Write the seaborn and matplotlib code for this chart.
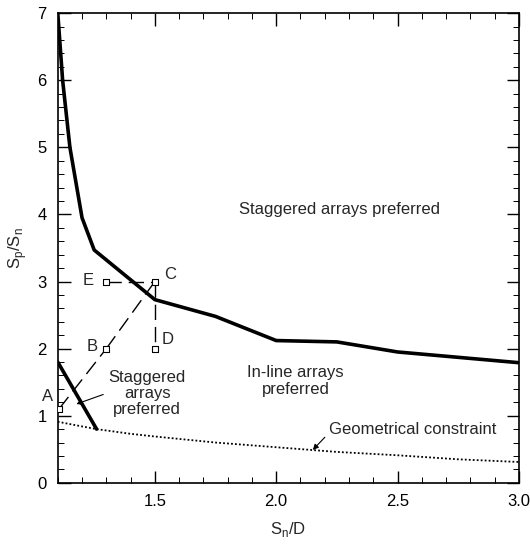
import matplotlib
matplotlib.use("Agg")
import matplotlib.pyplot as plt
import seaborn as sns
import pandas as pd
from matplotlib.ticker import MultipleLocator

sns.set_theme(style="white")
plt.rcParams['font.family'] = ['Liberation Sans', 'DejaVu Sans']
plt.rcParams['mathtext.fontset'] = 'custom'
plt.rcParams['mathtext.rm'] = 'Liberation Sans'

# Boundary between staggered (above) and in-line (below)
upper_x = [1.10, 1.12, 1.15, 1.20, 1.25, 1.50, 1.75, 2.00, 2.25, 2.50, 3.00]
upper_y = [7.00, 6.00, 5.00, 3.95, 3.47, 2.73, 2.48, 2.12, 2.10, 1.95, 1.79]

# Lower-left boundary
lower_x = [1.10, 1.26]
lower_y = [1.80, 0.80]

# Geometrical constraint
geo_x = [1.10, 1.20, 1.26, 1.40, 1.50, 1.75, 2.00, 2.25, 2.50, 2.75, 3.00]
geo_y = [0.91, 0.84, 0.80, 0.73, 0.69, 0.60, 0.53, 0.46, 0.41, 0.35, 0.31]

# Design path points
pt_labels = ["A", "B", "C", "D", "E"]
pt_x = [1.105, 1.30, 1.50, 1.50, 1.30]
pt_y = [1.10, 2.00, 3.00, 2.00, 3.00]

fig = plt.figure(figsize=(5.30, 5.48), dpi=100)
ax = fig.add_axes([0.109, 0.119, 0.870, 0.857])

sns.lineplot(x=upper_x, y=upper_y, ax=ax, color="black", lw=2.6, sort=False, estimator=None)
sns.lineplot(x=lower_x, y=lower_y, ax=ax, color="black", lw=2.6, sort=False, estimator=None)
sns.lineplot(x=geo_x, y=geo_y, ax=ax, color="black", lw=1.3, ls=(0, (1, 1.2)), sort=False, estimator=None)

dash = (0, (11, 5))
path_segments = [(0, 1), (1, 2), (4, 2), (2, 3)]
for i, j in path_segments:
    sns.lineplot(x=[pt_x[i], pt_x[j]], y=[pt_y[i], pt_y[j]], ax=ax, color="black",
                 lw=1.0, ls=dash, sort=False, estimator=None)
sns.scatterplot(x=pt_x, y=pt_y, ax=ax, marker="s", s=18, facecolor="white",
                edgecolor="black", linewidth=0.8, zorder=5)

lab_off = {"A": (-0.046, 0.18), "B": (-0.06, 0.03), "C": (0.062, 0.10),
           "D": (0.053, 0.13), "E": (-0.076, 0.01)}
FS = 12
for lab, x, y in zip(pt_labels, pt_x, pt_y):
    dx, dy = lab_off[lab]
    ax.text(x + dx, y + dy, lab, ha="center", va="center", fontsize=FS)

ax.text(2.262, 4.07, "Staggered arrays preferred", ha="center", va="center", fontsize=FS)
ax.text(2.08, 1.52, "In-line arrays\npreferred", ha="center", va="center", fontsize=FS,
        linespacing=1.15)
ax.text(1.469, 1.33, "Staggered\narrays\npreferred", ha="center", va="center", fontsize=FS,
        linespacing=1.05)
ax.annotate("", xy=(1.166, 1.16), xytext=(1.298, 1.33),
            arrowprops=dict(arrowstyle="-|>", color="black", lw=0.8, mutation_scale=8))
ax.annotate("Geometrical constraint", xy=(2.143, 0.46), xytext=(2.218, 0.79),
            ha="left", va="center", fontsize=FS,
            arrowprops=dict(arrowstyle="-|>", color="black", lw=0.8, mutation_scale=8,
                            shrinkA=1, relpos=(0, 0.3)))

ax.set_xlim(1.1, 3.0)
ax.set_ylim(0, 7)
ax.xaxis.set_major_locator(MultipleLocator(0.5))
ax.xaxis.set_minor_locator(MultipleLocator(0.1))
ax.yaxis.set_major_locator(MultipleLocator(1))
ax.yaxis.set_minor_locator(MultipleLocator(0.2))
ax.set_xticks([1.5, 2.0, 2.5, 3.0])
ax.set_xticklabels(["1.5", "2.0", "2.5", "3.0"])
ax.tick_params(which="both", direction="in", top=True, right=True, bottom=True, left=True,
               labelsize=FS, colors="black")
ax.tick_params(which="major", length=9, width=1.0, pad=8)
ax.tick_params(which="minor", length=4, width=0.7)
for s in ax.spines.values():
    s.set_color("black")
    s.set_linewidth(1.2)

ax.set_xlabel(r"S$_\mathregular{n}$/D", fontsize=FS, labelpad=8)
ax.set_ylabel(r"S$_\mathregular{p}$/S$_\mathregular{n}$", fontsize=FS, labelpad=6)

fig.savefig("out.png", dpi=100)
